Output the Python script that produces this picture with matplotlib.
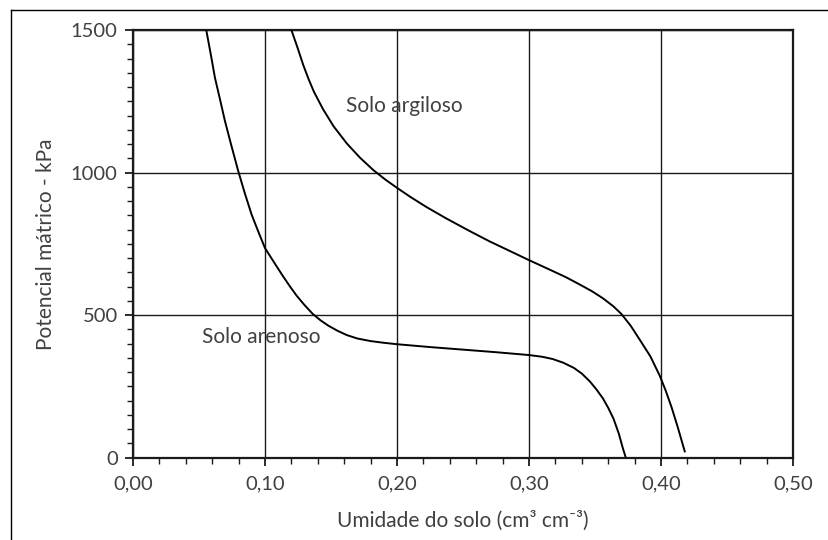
import matplotlib
matplotlib.use("Agg")
import matplotlib.pyplot as plt
from matplotlib.lines import Line2D
from matplotlib.ticker import MultipleLocator, FuncFormatter

# Data
sandy_x = [0.0555, 0.0595, 0.0621, 0.0660, 0.0697, 0.0745, 0.0798, 0.0848, 0.0899, 0.0950,
           0.1000, 0.1088, 0.1140, 0.1190, 0.124, 0.130, 0.136, 0.142, 0.148,
           0.155, 0.162, 0.170, 0.180, 0.190, 0.200, 0.225, 0.250, 0.275, 0.300,
           0.310, 0.318, 0.326, 0.334, 0.340, 0.346, 0.351, 0.356, 0.360, 0.364,
           0.368, 0.371, 0.373]
sandy_y = [1500, 1400, 1332, 1255, 1180, 1095, 1004, 926, 852, 792,
           735, 671, 634, 600, 568, 535, 505, 482, 463,
           445, 430, 418, 409, 403, 398, 388, 379, 370, 360,
           354, 346, 333, 315, 295, 268, 240, 208, 175, 137,
           85, 35, 5]

clay_x = [0.120, 0.1245, 0.129, 0.133, 0.137, 0.144, 0.152, 0.162, 0.172, 0.182,
          0.191, 0.1995, 0.210, 0.222, 0.237, 0.255, 0.270, 0.285, 0.2995, 0.315,
          0.328, 0.3386, 0.348, 0.356, 0.3639, 0.370, 0.377, 0.384, 0.392, 0.399,
          0.4035, 0.408, 0.4125, 0.418]
clay_y = [1500, 1440, 1377, 1328, 1284, 1222, 1162, 1102, 1052, 1009,
          976, 948, 915, 880, 840, 795, 759, 726, 694, 661,
          633, 607, 583, 559, 531, 504, 463, 413, 355, 288,
          236, 177, 110, 22]

x_ticks = [0.0, 0.1, 0.2, 0.3, 0.4, 0.5]
y_ticks = [0, 500, 1000, 1500]

label_sandy = "Solo arenoso"
label_clay = "Solo argiloso"
xlabel = "Umidade do solo (cm³ cm⁻³)"
ylabel = "Potencial mátrico - kPa"

plt.rcParams['font.family'] = ['Lato', 'DejaVu Sans']

fig = plt.figure(figsize=(8.29, 5.40), dpi=100)
ax = fig.add_axes([133/829, 1 - 457.7/540, 660/829, 427.7/540])

ax.plot(sandy_x, sandy_y, color='black', lw=1.4, zorder=3, solid_joinstyle='round')
ax.plot(clay_x, clay_y, color='black', lw=1.4, zorder=3, solid_joinstyle='round')

ax.set_xlim(0, 0.5)
ax.set_ylim(0, 1500)
ax.set_xticks(x_ticks)
ax.set_yticks(y_ticks)
ax.xaxis.set_minor_locator(MultipleLocator(0.02))
ax.yaxis.set_minor_locator(MultipleLocator(50))
ax.xaxis.set_major_formatter(FuncFormatter(lambda v, p: f"{v:.2f}".replace('.', ',')))
ax.yaxis.set_major_formatter(FuncFormatter(lambda v, p: f"{int(v)}"))

ax.grid(True, which='major', color='#1a1a1a', lw=1.0)
ax.set_axisbelow(True)
for s in ax.spines.values():
    s.set_color('#1a1a1a')
    s.set_linewidth(1.6)

tick_col = '#404040'
ax.tick_params(axis='both', which='major', direction='out', length=6, width=1.3,
               color='#1a1a1a', labelcolor=tick_col, labelsize=14.5, pad=5)
ax.tick_params(axis='both', which='minor', direction='out', length=4, width=1.0,
               color='#1a1a1a')
ax.tick_params(axis='x', which='major', pad=7)

ax.set_xlabel(xlabel, fontsize=15, color=tick_col, labelpad=13)
ax.set_ylabel(ylabel, fontsize=15, color=tick_col, labelpad=11)

ax.text(0.1616, 1235, label_clay, fontsize=15, color='#404040', va='center', ha='left', zorder=4)
ax.text(0.052, 424, label_sandy, fontsize=15, color='#404040', va='center', ha='left', zorder=4)

# outer frame (top and left edges)
fig.add_artist(Line2D([11/829, 1.0], [1 - 10/540, 1 - 10/540], transform=fig.transFigure,
                      color='black', lw=1.0))
fig.add_artist(Line2D([11/829, 11/829], [0, 1 - 10/540], transform=fig.transFigure,
                      color='black', lw=1.0))

fig.savefig("out.png", dpi=100)
